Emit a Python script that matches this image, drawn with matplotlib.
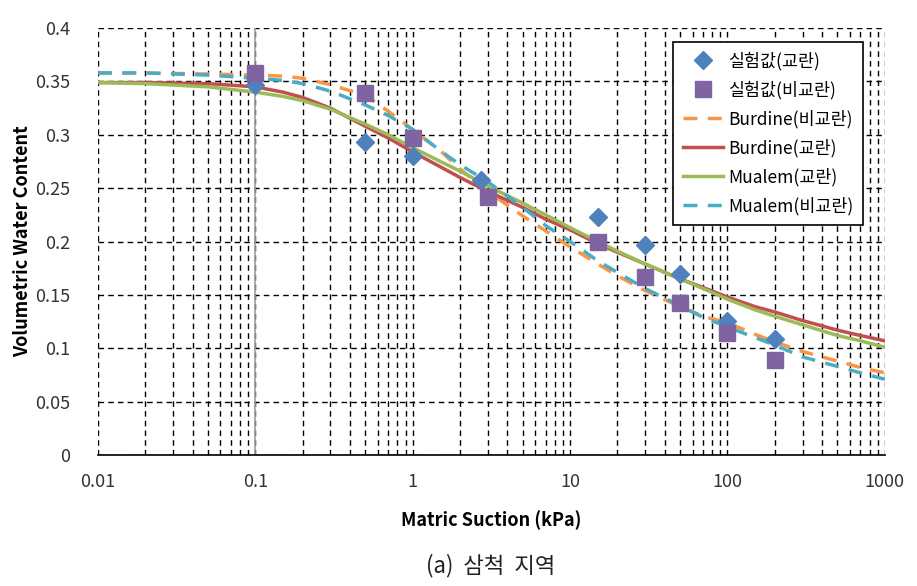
import numpy as np
import matplotlib.pyplot as plt
from matplotlib.ticker import FixedLocator, NullFormatter

plt.rcParams['font.family'] = ['Noto Sans CJK KR', 'DejaVu Sans']

# measured points
x_dist = [0.1, 0.5, 1, 2.7, 15, 30, 50, 100, 200]
y_dist = [0.347, 0.293, 0.280, 0.258, 0.223, 0.197, 0.170, 0.126, 0.109]
x_undist = [0.1, 0.5, 1, 3, 15, 30, 50, 100, 200]
y_undist = [0.358, 0.339, 0.297, 0.242, 0.200, 0.167, 0.142, 0.114, 0.089]

# fitted curves
x_fit = [0.01, 0.02, 0.05, 0.1, 0.15, 0.2, 0.3, 0.5, 0.7, 1, 1.5, 2, 3, 5, 7, 10,
         15, 20, 30, 50, 70, 100, 150, 200, 300, 500, 700, 1000]
burdine_undist = [0.358, 0.358, 0.357, 0.356, 0.355, 0.353, 0.347, 0.337, 0.322, 0.305,
                  0.285, 0.268, 0.247, 0.224, 0.210, 0.195, 0.179, 0.168, 0.154,
                  0.139, 0.130, 0.124, 0.113, 0.106, 0.097, 0.088, 0.082, 0.077]
burdine_dist = [0.349, 0.349, 0.348, 0.345, 0.340, 0.335, 0.325, 0.308, 0.297, 0.284,
                0.270, 0.260, 0.247, 0.232, 0.221, 0.211, 0.198, 0.190, 0.179,
                0.165, 0.157, 0.148, 0.139, 0.134, 0.126, 0.117, 0.112, 0.107]
mualem_dist = [0.349, 0.348, 0.345, 0.340, 0.336, 0.332, 0.324, 0.310, 0.300, 0.288,
               0.275, 0.266, 0.252, 0.236, 0.225, 0.213, 0.200, 0.191, 0.179,
               0.165, 0.156, 0.146, 0.136, 0.130, 0.122, 0.112, 0.107, 0.101]
mualem_undist = [0.358, 0.358, 0.356, 0.353, 0.351, 0.348, 0.341, 0.328, 0.318, 0.305,
                 0.285, 0.272, 0.256, 0.232, 0.215, 0.200, 0.182, 0.171, 0.156,
                 0.140, 0.129, 0.120, 0.110, 0.103, 0.092, 0.083, 0.077, 0.071]

fig = plt.figure(figsize=(9.17, 5.86), dpi=100)
ax = fig.add_axes([0.1069, 0.2235, 0.858, 0.7285])

ax.set_xscale('log')
ax.set_xlim(0.01, 1000)
ax.set_ylim(0, 0.4)

# gridlines
ax.xaxis.set_minor_locator(FixedLocator([m * 10.0 ** e for e in range(-2, 3) for m in range(2, 10)]))
ax.xaxis.set_minor_formatter(NullFormatter())
ax.grid(True, which='both', axis='x', color='black', linestyle=(0, (4, 3)), linewidth=1)
ax.grid(True, which='major', axis='y', color='black', linestyle=(0, (4, 3)), linewidth=1)
ax.set_axisbelow(True)
ax.axvline(0.1, color='#a0a0a0', linewidth=1.2, zorder=1)

for s in ['left', 'top', 'right']:
    ax.spines[s].set_visible(False)
ax.spines['bottom'].set_color('black')
ax.spines['bottom'].set_linewidth(1.2)
ax.tick_params(which='both', length=0, labelsize=13, colors='#333333')
ax.tick_params(axis='x', pad=13)
ax.tick_params(axis='y', pad=20)

ax.set_yticks(np.arange(0, 0.41, 0.05))
ax.set_yticklabels(['0', '0.05', '0.1', '0.15', '0.2', '0.25', '0.3', '0.35', '0.4'])
ax.set_xticks([0.01, 0.1, 1, 10, 100, 1000])
ax.set_xticklabels(['0.01', '0.1', '1', '10', '100', '1000'])

ax.plot(x_fit, burdine_undist, color='#F79646', linewidth=2.5, dashes=(4, 3), label='Burdine(비교란)', zorder=3)
ax.plot(x_fit, burdine_dist, color='#C0504D', linewidth=2.5, label='Burdine(교란)', zorder=3)
ax.plot(x_fit, mualem_dist, color='#9BBB59', linewidth=2.5, label='Mualem(교란)', zorder=3)
ax.plot(x_fit, mualem_undist, color='#4BACC6', linewidth=2.5, dashes=(4, 3), label='Mualem(비교란)', zorder=3)
ax.plot(x_dist, y_dist, 'D', color='#4F81BD', markersize=9, label='실험값(교란)', zorder=4)
ax.plot(x_undist, y_undist, 's', color='#8064A2', markersize=11, label='실험값(비교란)', zorder=4)

ax.set_xlabel('Matric Suction (kPa)', fontsize=13, fontweight='bold', labelpad=14)
ax.set_ylabel('Volumetric Water Content', fontsize=13, fontweight='bold', labelpad=2)

h, l = ax.get_legend_handles_labels()
order = [4, 5, 0, 1, 2, 3]
leg = ax.legend([h[i] for i in order], [l[i] for i in order], loc='upper right',
                bbox_to_anchor=(0.972, 0.967), borderaxespad=0, fontsize=12.5, frameon=True,
                fancybox=False, edgecolor='black', framealpha=1, handlelength=2.3,
                labelspacing=0.6, borderpad=0.55, handletextpad=0.3)
leg.get_frame().set_linewidth(1.2)

fig.text(0.535, 0.035, '(a)  삼척  지역', ha='center', va='center', fontsize=16, color='#222222')

fig.savefig('out.png', dpi=100)
